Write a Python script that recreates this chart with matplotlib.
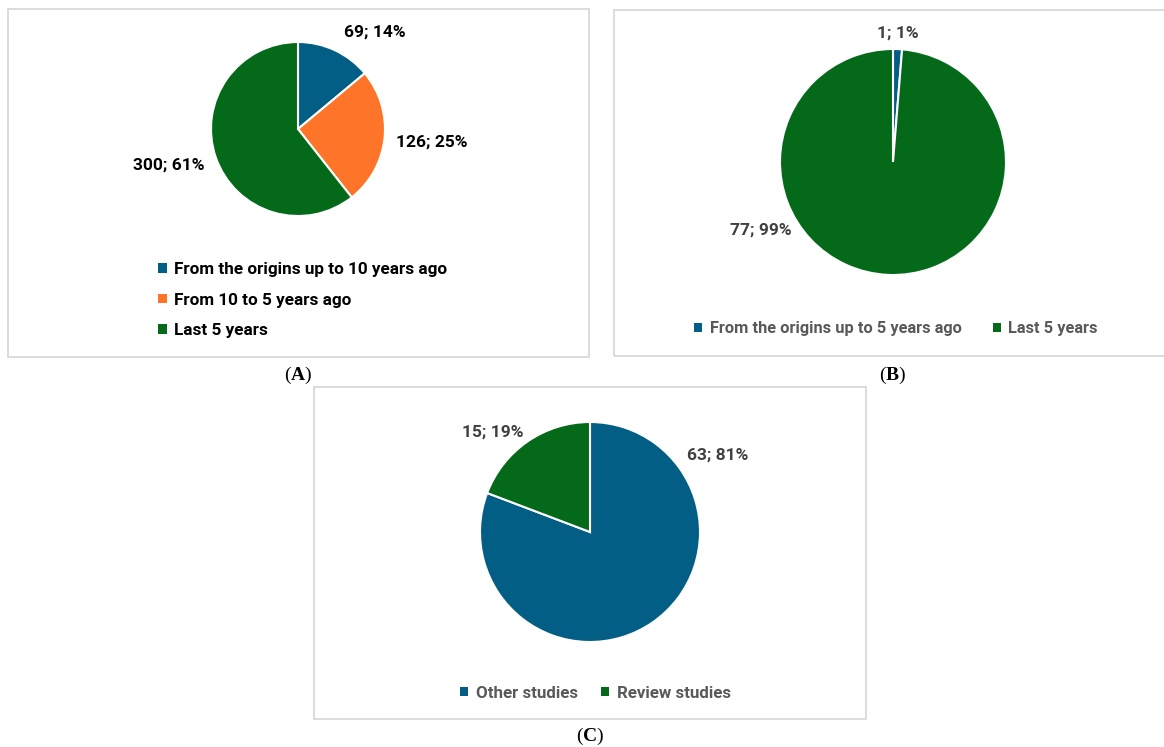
import matplotlib
matplotlib.use("Agg")
import matplotlib.pyplot as plt
from matplotlib.patches import Rectangle, Patch

# ---------------- data ----------------
a_labels = ["From the origins up to 10 years ago", "From 10 to 5 years ago", "Last 5 years"]
a_values = [69, 126, 300]
b_labels = ["From the origins up to 5 years ago", "Last 5 years"]
b_values = [1, 77]
c_labels = ["Other studies", "Review studies"]
c_values = [63, 15]
captions = ["A", "B", "C"]

BLUE = "#035E85"
ORANGE = "#FE7429"
GREEN = "#046A1A"
a_colors = [BLUE, ORANGE, GREEN]
b_colors = [BLUE, GREEN]
c_colors = [BLUE, GREEN]

plt.rcParams['font.family'] = ['Liberation Sans Narrow', 'Roboto', 'DejaVu Sans']
plt.rcParams['mathtext.fontset'] = 'custom'
plt.rcParams['mathtext.rm'] = 'Liberation Serif'
plt.rcParams['mathtext.bf'] = 'Liberation Serif:bold'

W, H = 1164, 747
fig = plt.figure(figsize=(W / 100, H / 100), dpi=100)
fig.patch.set_facecolor("white")


def fx(x):
    return x / W


def fy(y):
    return 1 - y / H


def box(x0, y0, x1, y1):
    fig.add_artist(Rectangle((fx(x0), fy(y1)), (x1 - x0) / W, (y1 - y0) / H,
                             transform=fig.transFigure, fill=False,
                             edgecolor="#D9D9D9", lw=1.3))


def pie(cx, cy, r, values, colors, label_pos, label_color):
    ax = fig.add_axes([fx(cx - r), fy(cy + r), 2 * r / W, 2 * r / H])
    ax.pie(values, colors=colors, startangle=90, counterclock=False, radius=1,
           wedgeprops=dict(edgecolor="white", linewidth=1.5))
    ax.set_xlim(-1, 1)
    ax.set_ylim(-1, 1)
    ax.axis("off")
    total = sum(values)
    for v, (lx, ly) in zip(values, label_pos):
        ax.text((lx - cx) / r, (cy - ly) / r, f"{v}; {round(100 * v / total)}%",
                ha="center", va="center", fontsize=12.5, fontweight="bold",
                color=label_color, clip_on=False)
    return ax


def legend(labels, colors, x, y, ncol, color, colspace, size=12.5, labelspacing=0.9):
    handles = [Patch(facecolor=c, edgecolor="none") for c in colors]
    leg = fig.legend(handles, labels, loc="center left",
                     bbox_to_anchor=(fx(x), fy(y)), ncol=ncol, frameon=False,
                     handlelength=0.5, handleheight=0.5, handletextpad=0.45,
                     labelspacing=labelspacing, columnspacing=colspace,
                     borderpad=0, borderaxespad=0,
                     prop=dict(size=size, weight="bold"))
    for t in leg.get_texts():
        t.set_color(color)


# Panel boxes
box(8, 9, 589, 357)
box(614, 10, 1175, 356)
box(314, 387, 866, 719)

# Panel A
pie(298, 129, 87, a_values, a_colors, [(375, 32), (432, 142), (169, 165)], "black")
legend(a_labels, a_colors, 158, 300, 1, "black", 2.0, size=12.3, labelspacing=0.9)

# Panel B
pie(893, 162, 113, b_values, b_colors, [(898, 33), (761, 230)], "#404040")
legend(b_labels, b_colors, 694, 329, 2, "#595959", 1.9, size=11.8)

# Panel C
pie(590, 532, 110, c_values, c_colors, [(718, 455), (493, 432)], "#404040")
legend(c_labels, c_colors, 460, 693, 2, "#595959", 1.35, size=12.2)

# Captions
for cap, (x, y) in zip(captions, [(298, 375), (893, 375), (590, 736)]):
    fig.text(fx(x), fy(y), r"($\mathbf{" + cap + r"}$)", ha="center", va="center",
             fontsize=14, family="Liberation Serif")

fig.savefig("out.png", dpi=100, facecolor="white")
